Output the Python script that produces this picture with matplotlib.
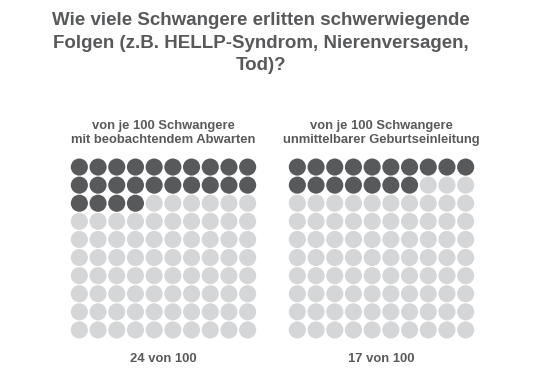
import numpy as np
import matplotlib.pyplot as plt

plt.rcParams['font.family'] = ['Liberation Sans', 'DejaVu Sans']

# data
title = 'Wie viele Schwangere erlitten schwerwiegende\nFolgen (z.B. HELLP-Syndrom, Nierenversagen,\nTod)?'
group_labels = ['von je 100 Schwangere\nmit beobachtendem Abwarten',
                'von je 100 Schwangere\nunmittelbarer Geburtseinleitung']
affected = [24, 17]
total = 100

dark = '#58595b'
light = '#d5d6d8'
text_col = '#58595b'

fig = plt.figure(figsize=(5.45, 3.75), dpi=100)
W, H = 545, 375

fig.text(261 / W, 1 - 43 / H, title, ha='center', va='center', fontsize=13.5,
         fontweight='bold', color=text_col, linespacing=1.4)

lefts = [70, 288]
for left, label, n in zip(lefts, group_labels, affected):
    ax = fig.add_axes([left / W, 1 - 339 / H, 187 / W, 181 / H])
    idx = np.arange(total)
    cols = idx % 10
    rows = idx // 10
    colors = [dark if i < n else light for i in idx]
    ax.scatter(cols + 0.5, rows + 0.5, s=152, c=colors, linewidths=0)
    ax.set_xlim(0, 10)
    ax.set_ylim(10, 0)
    ax.axis('off')

    cx = (left + 93.5) / W
    fig.text(cx, 1 - 133 / H, label, ha='center', va='center', fontsize=9.4,
             fontweight='bold', color=text_col, linespacing=1.2)
    fig.text(cx, 1 - 359 / H, f'{n} von {total}', ha='center', va='center',
             fontsize=9.4, fontweight='bold', color=text_col)

fig.savefig('out.png', dpi=100)
